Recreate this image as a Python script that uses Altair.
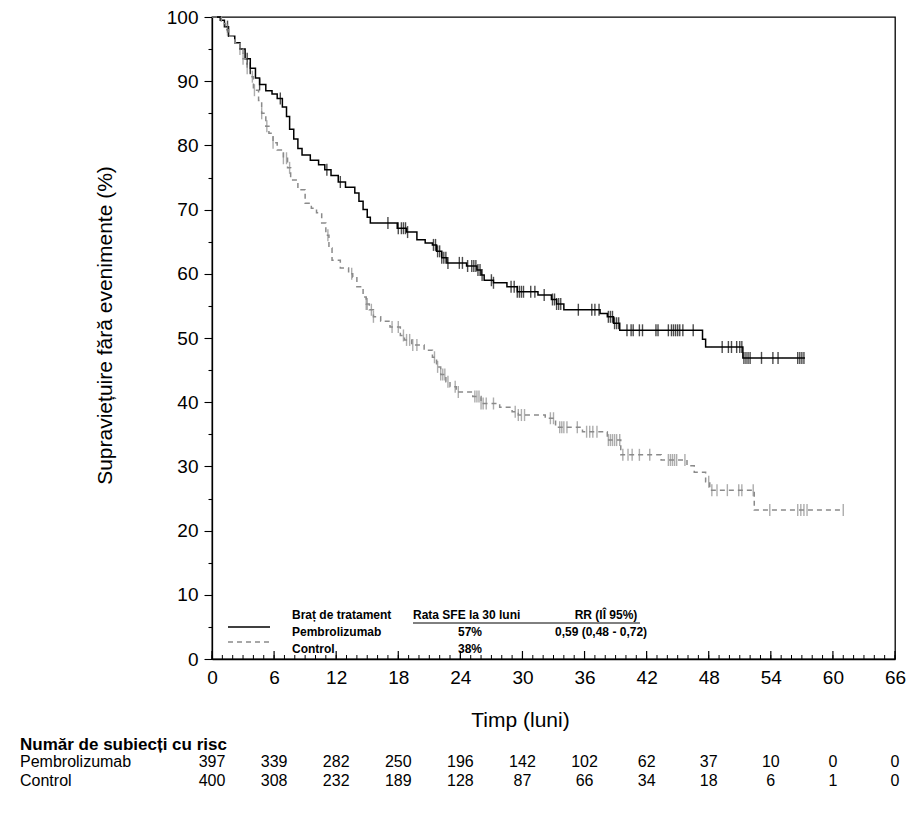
import altair as alt
import pandas as pd
from bisect import bisect_right

# ---- Kaplan-Meier step points: month, % event-free ----
pembro_t = [0, 0.8, 1.2, 1.6, 2.2, 2.7, 3.2, 3.7, 4.2, 4.6, 5.2, 5.8, 6.3, 6.8, 7.2, 7.5,
            7.9, 8.3, 8.7, 9.5, 10.3, 10.9, 11.5, 12.2, 12.9, 13.8, 14.2, 14.6, 15.0, 15.3,
            17.9, 18.8, 19.8, 20.6, 21.3, 21.7, 22.2, 22.7, 24.6, 25.6, 26.0, 26.3, 27.2,
            28.5, 29.5, 31.5, 32.8, 33.3, 34.0, 37.5, 38.2, 38.8, 39.4, 47.4, 47.7, 51.3]
pembro_s = [100, 99.5, 98.5, 97, 96, 95, 93.5, 92, 90.5, 89.5, 88.5, 88, 87.3, 86, 84.5, 82.5,
            81, 79.5, 78.5, 77.7, 77, 76.2, 75.3, 74.3, 73.5, 72.6, 71.3, 70, 68.8, 67.9,
            67.1, 66.5, 65.3, 64.8, 64.5, 63.5, 62.5, 61.7, 61.2, 60.6, 59.8, 59.0, 58.6,
            58.0, 57.2, 56.7, 56.0, 55.3, 54.4, 53.8, 53.3, 52.3, 51.2, 49.8, 48.6, 46.9]
pembro_last = 57.3

control_t = [0, 0.9, 1.3, 1.6, 2.2, 2.7, 3.0, 3.4, 3.7, 4.0, 4.5, 4.8, 5.2, 5.5, 5.9, 6.3,
             6.9, 7.3, 7.6, 8.3, 9.0, 9.6, 10.1, 10.6, 11.0, 11.3, 11.6, 12.4, 13.2, 13.6,
             14.0, 14.6, 14.9, 15.2, 15.6, 16.3, 17.2, 18.2, 18.6, 19.3, 20.5, 21.3, 21.7,
             22.1, 22.6, 23.0, 23.6, 25.2, 26.0, 27.8, 29.0, 29.6, 32.2, 33.2, 35.8, 38.2,
             39.5, 43.4, 45.9, 46.6, 47.7, 48.1, 52.4]
control_s = [100, 99, 98, 97, 96, 95, 93.5, 92, 90.7, 88.6, 87, 85, 83, 81.9, 80.4, 79.3,
             78, 76.5, 74.6, 73.1, 71, 70.2, 69.5, 67.9, 66, 64, 62.1, 60.9, 60, 59.5,
             58, 56.4, 55.3, 54.4, 53.3, 52.6, 51.7, 50.4, 49.7, 48.9, 48.1, 47, 45.5,
             44.3, 43.2, 42.4, 41.6, 40.9, 39.8, 39.2, 38.5, 38.0, 37.5, 36.1, 35.4, 34.1,
             31.8, 31.0, 30.1, 29.1, 27.6, 26.3, 23.2]
control_last = 61.0

# ---- censoring times (months) ----
pembro_cens = [1.5, 3.4, 3.7, 4.6, 6.6, 11.1, 12.4, 17.0, 18.0, 18.3, 18.5, 18.7, 18.9,
               21.4, 21.6, 21.8, 22.0, 22.2, 22.4, 22.6, 22.8, 23.9, 24.2, 24.7, 25.1, 25.3,
               25.5, 25.7, 25.9, 26.1, 27.0, 27.2, 28.9, 29.2, 29.5, 29.7, 29.9, 30.1, 30.8,
               31.2, 32.1, 32.9, 33.1, 33.3, 33.5, 33.7, 35.4, 36.7, 37.0, 37.4, 38.3, 38.5,
               38.7, 38.9, 39.1, 39.3, 40.1, 40.5, 40.7, 41.3, 41.6, 42.9, 43.1, 44.1, 44.4,
               44.6, 44.8, 45.0, 45.2, 45.5, 46.5, 49.3, 49.9, 50.2, 50.7, 51.0, 51.2, 51.4,
               51.6, 51.8, 52.0, 53.1, 54.2, 54.7, 56.6, 56.8, 57.0, 57.2]
control_cens = [1.5, 2.7, 3.0, 3.4, 3.9, 4.1, 4.8, 5.3, 5.9, 6.9, 7.2, 7.5, 11.2, 13.5,
                14.9, 15.0, 15.4, 15.6, 17.4, 18.0, 18.5, 18.8, 19.1, 19.4, 19.8, 21.5, 21.8,
                22.1, 22.3, 22.5, 22.8, 23.5, 23.8, 25.4, 25.6, 25.8, 26.0, 26.2, 26.5, 27.2,
                29.3, 29.6, 29.9, 30.2, 32.7, 33.0, 33.6, 33.8, 34.0, 34.3, 35.3, 36.2, 36.5,
                36.8, 37.2, 38.3, 38.5, 38.7, 38.9, 39.1, 39.4, 39.7, 40.2, 40.6, 41.3, 42.3,
                44.1, 44.3, 44.5, 44.7, 44.9, 45.7, 48.0, 48.3, 48.8, 49.8, 50.9, 51.2, 52.3,
                53.9, 56.6, 56.9, 57.2, 57.5, 61.0]

# ---- number at risk ----
risk_months = [0, 6, 12, 18, 24, 30, 36, 42, 48, 54, 60, 66]
risk_pembro = [397, 339, 282, 250, 196, 142, 102, 62, 37, 10, 0, 0]
risk_control = [400, 308, 232, 189, 128, 87, 66, 34, 18, 6, 1, 0]

# monthly tick positions on the time axis
month_ticks = list(range(0, 67))

arms = ["Pembrolizumab", "Control"]
arm_colors = ["#000000", "#8a8a8a"]


def curve_rows(arm, times, surv, last):
    rows = [{"arm": arm, "t": t, "s": s} for t, s in zip(times, surv)]
    rows.append({"arm": arm, "t": last, "s": surv[-1]})
    return rows


def censor_rows(arm, times, surv, cens):
    return [{"arm": arm, "t": c, "s": surv[bisect_right(times, c) - 1]} for c in cens]


curves = pd.DataFrame(curve_rows("Pembrolizumab", pembro_t, pembro_s, pembro_last)
                      + curve_rows("Control", control_t, control_s, control_last))
censored = pd.DataFrame(censor_rows("Pembrolizumab", pembro_t, pembro_s, pembro_cens)
                        + censor_rows("Control", control_t, control_s, control_cens))
risk_p = pd.DataFrame({"t": risk_months, "n": risk_pembro})
risk_c = pd.DataFrame({"t": risk_months, "n": risk_control})
minor = pd.DataFrame({"t": month_ticks})
major = pd.DataFrame({"t": risk_months})
one = pd.DataFrame({"k": [0]})

W, H = 683, 642
FONT = "Liberation Sans"

x_scale = alt.Scale(domain=[0, 66], nice=False, zero=False)
y_scale = alt.Scale(domain=[0, 100], nice=False)
color = alt.Color("arm:N", scale=alt.Scale(domain=arms, range=arm_colors), legend=None)

# survival curves, with the labelled bottom axis and the left axis
lines = alt.Chart(curves).mark_line(interpolate="step-after", strokeWidth=1.5).encode(
    x=alt.X("t:Q", scale=x_scale,
            axis=alt.Axis(orient="bottom", values=risk_months, ticks=False, grid=False,
                          labelFontSize=19, labelPadding=9, labelFlush=False,
                          title="Timp (luni)", titleFontSize=21, titleFontWeight="normal",
                          titleX=308, titleY=61, titleBaseline="middle")),
    y=alt.Y("s:Q", scale=y_scale,
            axis=alt.Axis(orient="left", values=list(range(0, 101, 5)), grid=False,
                          tickSize={"condition": {"test": "datum.value % 10 === 0", "value": 8},
                                    "value": 4},
                          labelExpr="datum.value % 10 === 0 ? datum.label : ''",
                          labelFontSize=19, labelPadding=6, labelFlush=False,
                          title="Supraviețuire fără evenimente (%)", titleFontSize=21,
                          titleFontWeight="normal", titleX=-107, titleY=308,
                          titleBaseline="middle")),
    color=color,
    strokeDash=alt.StrokeDash("arm:N", scale=alt.Scale(domain=arms, range=[[1, 0], [5, 4]]),
                              legend=None),
)

# censoring marks
ticks = alt.Chart(censored).mark_tick(orient="vertical", size=12, thickness=1.4).encode(
    x=alt.X("t:Q", scale=x_scale, axis=None),
    y=alt.Y("s:Q", scale=y_scale, axis=None),
    color=color,
)

# inward month ticks along the time axis (longer every 6 months)
minor_ticks = alt.Chart(minor).mark_rule(color="#000000", strokeWidth=1).encode(
    x=alt.X("t:Q", scale=x_scale, axis=None), y=alt.value(H), y2=alt.value(H - 4))
major_ticks = alt.Chart(major).mark_rule(color="#000000", strokeWidth=1.2).encode(
    x=alt.X("t:Q", scale=x_scale, axis=None), y=alt.value(H), y2=alt.value(H - 8))

# number-at-risk table under the x axis
risk_header = alt.Chart(one).mark_text(align="left", fontSize=17, fontWeight="bold",
                                       font=FONT).encode(
    x=alt.value(-192), y=alt.value(728), text=alt.value("Număr de subiecți cu risc"))
risk_label_p = alt.Chart(one).mark_text(align="left", fontSize=16, font=FONT).encode(
    x=alt.value(-192), y=alt.value(745), text=alt.value("Pembrolizumab"))
risk_label_c = alt.Chart(one).mark_text(align="left", fontSize=16, font=FONT).encode(
    x=alt.value(-192), y=alt.value(764), text=alt.value("Control"))
risk_row_p = alt.Chart(risk_p).mark_text(fontSize=16, font=FONT).encode(
    x=alt.X("t:Q", scale=x_scale, axis=None), y=alt.value(745), text="n:Q")
risk_row_c = alt.Chart(risk_c).mark_text(fontSize=16, font=FONT).encode(
    x=alt.X("t:Q", scale=x_scale, axis=None), y=alt.value(764), text="n:Q")


# in-plot key table
def note(text, x, y, align="left"):
    return alt.Chart(one).mark_text(align=align, baseline="middle", fontSize=12, font=FONT,
                                    fontWeight="bold").encode(
        x=alt.value(x), y=alt.value(y), text=alt.value(text))


key_solid = alt.Chart(one).mark_rule(color="#000000", strokeWidth=1.5).encode(
    x=alt.value(16), x2=alt.value(58), y=alt.value(610))
key_dash = alt.Chart(one).mark_rule(color="#8a8a8a", strokeWidth=1.5, strokeDash=[5, 4]).encode(
    x=alt.value(16), x2=alt.value(58), y=alt.value(625))
key_rule = alt.Chart(one).mark_rule(color="#000000", strokeWidth=1).encode(
    x=alt.value(201), x2=alt.value(428), y=alt.value(606))

key = [
    note("Braț de tratament", 80, 598),
    note("Rata  SFE la 30  luni", 201, 598),
    note("RR (IÎ  95%)", 394, 598, align="center"),
    note("Pembrolizumab", 80, 615),
    note("57%", 258, 615, align="center"),
    note("0,59 (0,48  -  0,72)", 343, 615),
    note("Control", 80, 632),
    note("38%", 258, 632, align="center"),
]

chart = alt.layer(
    lines, ticks, minor_ticks, major_ticks, risk_header, risk_label_p, risk_label_c,
    risk_row_p, risk_row_c, key_solid, key_dash, key_rule, *key,
).resolve_axis(x="independent", y="independent").properties(
    width=W, height=H,
    autosize=alt.AutoSizeParams(type="none"),
    padding={"left": 212, "top": 17, "right": 18, "bottom": 161},
).configure(
    font=FONT,
).configure_view(
    stroke="#000000", strokeWidth=1.3,
).configure_axis(
    domainColor="#000000", domainWidth=1.3, tickColor="#000000", tickWidth=1.1,
    labelColor="#000000", titleColor="#000000", labelFont=FONT, titleFont=FONT,
)

chart.save("out.html", embed_options={"renderer": "svg", "actions": False})
